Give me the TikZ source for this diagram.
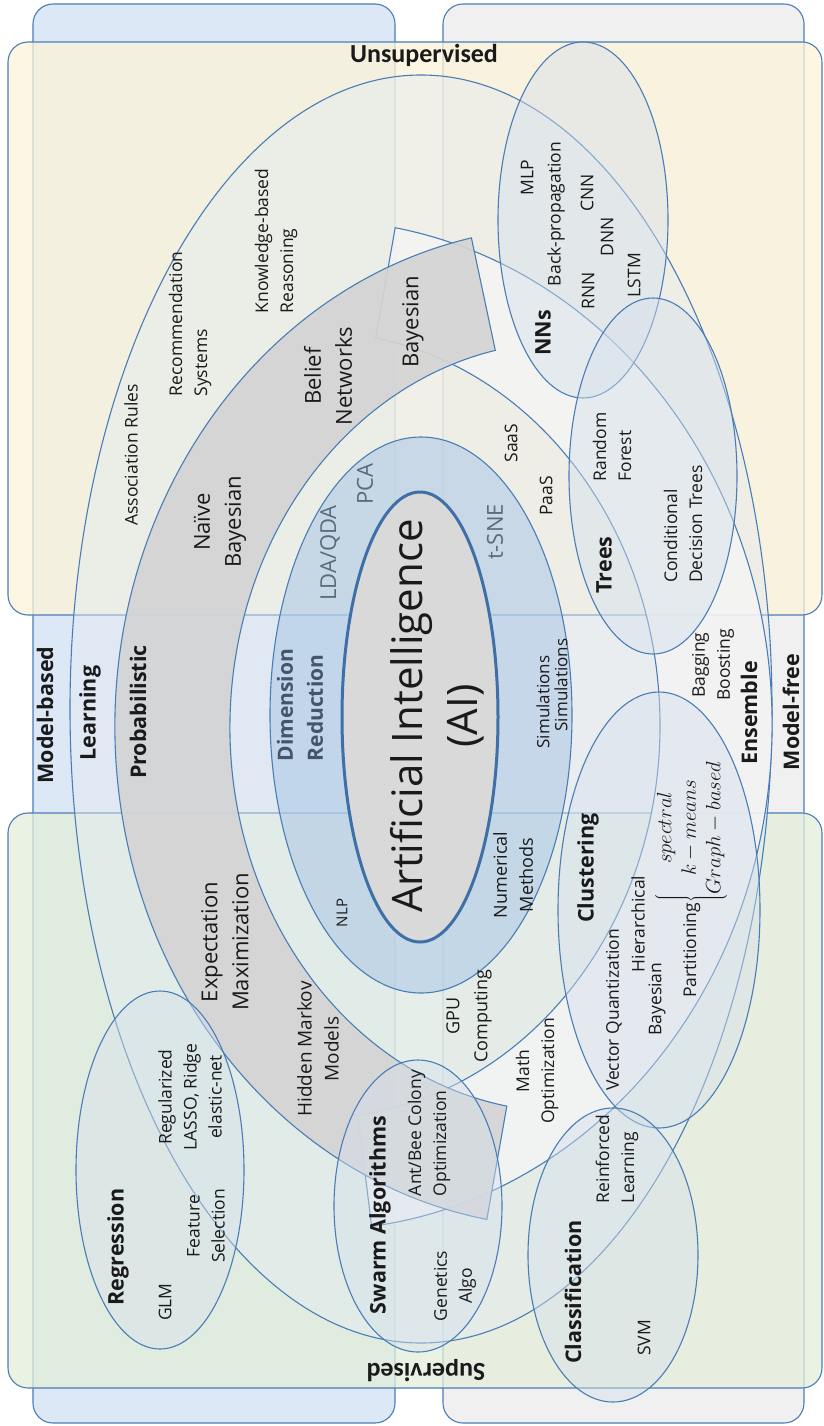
\documentclass[tikz,border=0pt]{standalone}
\usepackage{fontspec}
\setmainfont{Open Sans}
\newfontfamily\calib{Carlito}
\definecolor{edgec}{HTML}{4A7DB5}
\definecolor{bluebg}{HTML}{DCE8F5}
\definecolor{graybg}{HTML}{F0F0F0}
\definecolor{yel}{HTML}{FCF4DA}
\definecolor{grn}{HTML}{E4EEDA}
\definecolor{bandc}{HTML}{D4D4D4}
\definecolor{wband}{HTML}{F4F4F4}
\definecolor{dimc}{HTML}{A9C6E6}
\definecolor{aic}{HTML}{D9D9D9}
\definecolor{aiedge}{HTML}{3E6FA6}
\definecolor{smallc}{HTML}{D5E0EC}
\definecolor{learnc}{HTML}{E3EAF1}
\definecolor{txt}{HTML}{1A1A1A}
\definecolor{drc}{HTML}{5A6B7E}
\definecolor{drb}{HTML}{44546A}
\begin{document}
\begin{tikzpicture}[x=1pt,y=-1pt,
  edge/.style={draw=edgec, line width=1.1pt},
  lbl/.style={rotate=90, align=center, inner sep=0pt, text=txt, font=\fontsize{17.5}{25}\selectfont},
  lbll/.style={lbl, align=left},
  big/.style={lbl, font=\fontsize{22}{31}\selectfont},
  hd/.style={lbl, font=\bfseries\fontsize{21.5}{26}\selectfont},
  dr/.style={lbl, text=drc, font=\fontsize{22}{30}\selectfont},
  smallell/.style={edge, fill=smallc, fill opacity=0.45},
  rectbox/.style={edge, rounded corners=20pt},
]
\useasboundingbox (0,0) rectangle (824,1426);
\fill[white] (0,0) rectangle (824,1426);
% background panels
\path[rectbox, fill=bluebg] (33,4) rectangle (395,1423);
\path[rectbox, fill=graybg] (443,4) rectangle (804,1423);
\path[rectbox, fill=yel, fill opacity=0.75] (8,42) rectangle (822,615);
\path[rectbox, fill=grn, fill opacity=0.75] (8,813) rectangle (822,1388);
% learning ellipse
\path[edge, fill=learnc, fill opacity=0.45] (421,709) ellipse [x radius=351pt, y radius=634pt];
% white band (ensemble)
\path[edge, fill=wband, fill opacity=0.85] (395.2,227.7) arc[start angle=80, end angle=-83, x radius=456pt, y radius=505pt]
  -- (357.9,1115.1) arc[start angle=-83, end angle=80, x radius=344pt, y radius=393pt] -- cycle;
% gray band (probabilistic)
\path[edge, fill=bandc, fill opacity=0.92] (471.4,237.9) arc[start angle=102, end angle=260, x radius=450pt, y radius=500pt]
  -- (506.8,1106.1) arc[start angle=260, end angle=102, x radius=335pt, y radius=385pt] -- cycle;
% dimension reduction
\path[edge, fill=dimc, fill opacity=0.55] (421,715) ellipse [x radius=151pt, y radius=278pt];
% AI
\path[draw=aiedge, line width=3pt, fill=aic] (420,717) ellipse [x radius=78pt, y radius=225pt];
% small ellipses
\path[smallell] (583,220) ellipse [x radius=85pt, y radius=178pt];
\path[smallell] (653,476) ellipse [x radius=84pt, y radius=178pt];
\path[smallell] (659,910) ellipse [x radius=101pt, y radius=218pt];
\path[smallell] (613,1255) ellipse [x radius=85pt, y radius=147pt];
\path[smallell] (418,1206) ellipse [x radius=84pt, y radius=146pt];
\path[smallell] (160,1170) ellipse [x radius=84pt, y radius=179pt];
% titles
\node[font=\calib\bfseries\fontsize{26}{30}\selectfont, text=txt] (unsup) at (424,55) {Unsupervised};
\node[font=\calib\bfseries\fontsize{26}{30}\selectfont, text=txt, rotate=180] (sup) at (426,1371) {Supervised};
\node[hd] (mb) at (45,715) {Model-based};
\node[hd] (learn) at (90,713) {Learning};
\node[hd] (prob) at (138,712) {Probabilistic};
\node[hd] (mf) at (791,712) {Model-free};
\node[hd] (ens) at (749,713) {Ensemble};
\node[lbl] (bag) at (713,665) {Bagging\\Boosting};
% NNs
\node[hd] (nns) at (543,333) {NNs};
\node[lbl] (mlp) at (527,178) {MLP};
\node[lbl] (bp) at (556,214) {Back-propagation};
\node[lbl] (cnn) at (587,193) {CNN};
\node[lbl] (dnn) at (607,237) {DNN};
\node[lbl] (rnn) at (588,291) {RNN};
\node[lbl] (lstm) at (634,275) {LSTM};
% Trees
\node[hd] (trees) at (604,565) {Trees};
\node[lbll] (rf) at (612,447) {Random\\Forest};
\node[lbll] (cdt) at (683,524) {Conditional\\Decision Trees};
% Clustering
\node[hd] (clus) at (588,868) {Clustering};
\node[lbl] (vq) at (614,1010) {Vector Quantization};
\node[lbl] (hier) at (638,924) {Hierarchical};
\node[lbl] (cbay) at (657,999) {Bayesian};
\node[lbl] (part) at (691,879) {Partitioning{\fontsize{20}{24.5}\selectfont$\left\{\begin{array}{@{}c@{}}spectral\\ k-means\\ Graph-based\end{array}\right.$}};
% Classification
\node[hd] (cls) at (573,1292) {Classification};
\node[lbll] (rl) at (617,1159) {Reinforced\\Learning};
\node[lbl] (svm) at (644,1338) {SVM};
% Swarm
\node[hd] (swarm) at (380,1215) {Swarm Algorithms};
\node[lbll] (abc) at (429,1133) {Ant/Bee Colony\\Optimization};
\node[lbl] (gen) at (455,1286) {Genetics\\Algo};
% Regression
\node[hd] (reg) at (118,1247) {Regression};
\node[lbl] (glm) at (165,1302) {GLM};
\node[lbl] (fs) at (206,1226) {Feature\\Selection};
\node[lbl] (regu) at (190,1097) {Regularized\\LASSO, Ridge\\elastic-net};
% Probabilistic band
\node[lbl, font=\fontsize{19}{27}\selectfont] (hmm) at (318,1049) {Hidden Markov\\Models};
\node[big] (em) at (225,942) {Expectation\\Maximization};
\node[big] (nb) at (220,522) {Na\"{\i}ve\\Bayesian};
\node[big] (bn) at (328,376) {Belief\\Networks};
\node[big] (bay) at (413,322) {Bayesian};
% Learning region
\node[lbl] (ar) at (131,455) {Association Rules};
\node[lbll] (rs) at (190,324) {Recommendation\\Systems};
\node[lbll] (kbr) at (276,241) {Knowledge-based\\Reasoning};
% Dimension reduction
\node[lbll, text=drb, font=\bfseries\fontsize{21}{30}\selectfont] (dimr) at (300,705) {Dimension\\Reduction};
\node[dr] (lda) at (330,553) {LDA/QDA};
\node[dr] (pca) at (365,484) {PCA};
\node[dr] (tsne) at (495,532) {t-SNE};
\node[lbl] (saas) at (511,443) {SaaS};
\node[lbl] (paas) at (546,496) {PaaS};
% AI
\node[lbl, font=\fontsize{42}{55}\selectfont] (ai) at (437,716) {Artificial Intelligence\\(AI)};
\node[lbl, font=\fontsize{15}{20}\selectfont] (nlp) at (342,913) {NLP};
\node[lbl, font=\fontsize{18}{26}\selectfont] (num) at (513,875) {Numerical\\Methods};
\node[lbl, font=\fontsize{17}{20}\selectfont] (sim1) at (543,702) {Simulations};
\node[lbl, font=\fontsize{17}{20}\selectfont] (sim2) at (561,685) {Simulations};
\node[lbl, font=\fontsize{18}{28}\selectfont] (gpu) at (469,1016) {GPU\\Computing};
\node[lbl] (math) at (537,1071) {Math\\Optimization};
\end{tikzpicture}
\end{document}
